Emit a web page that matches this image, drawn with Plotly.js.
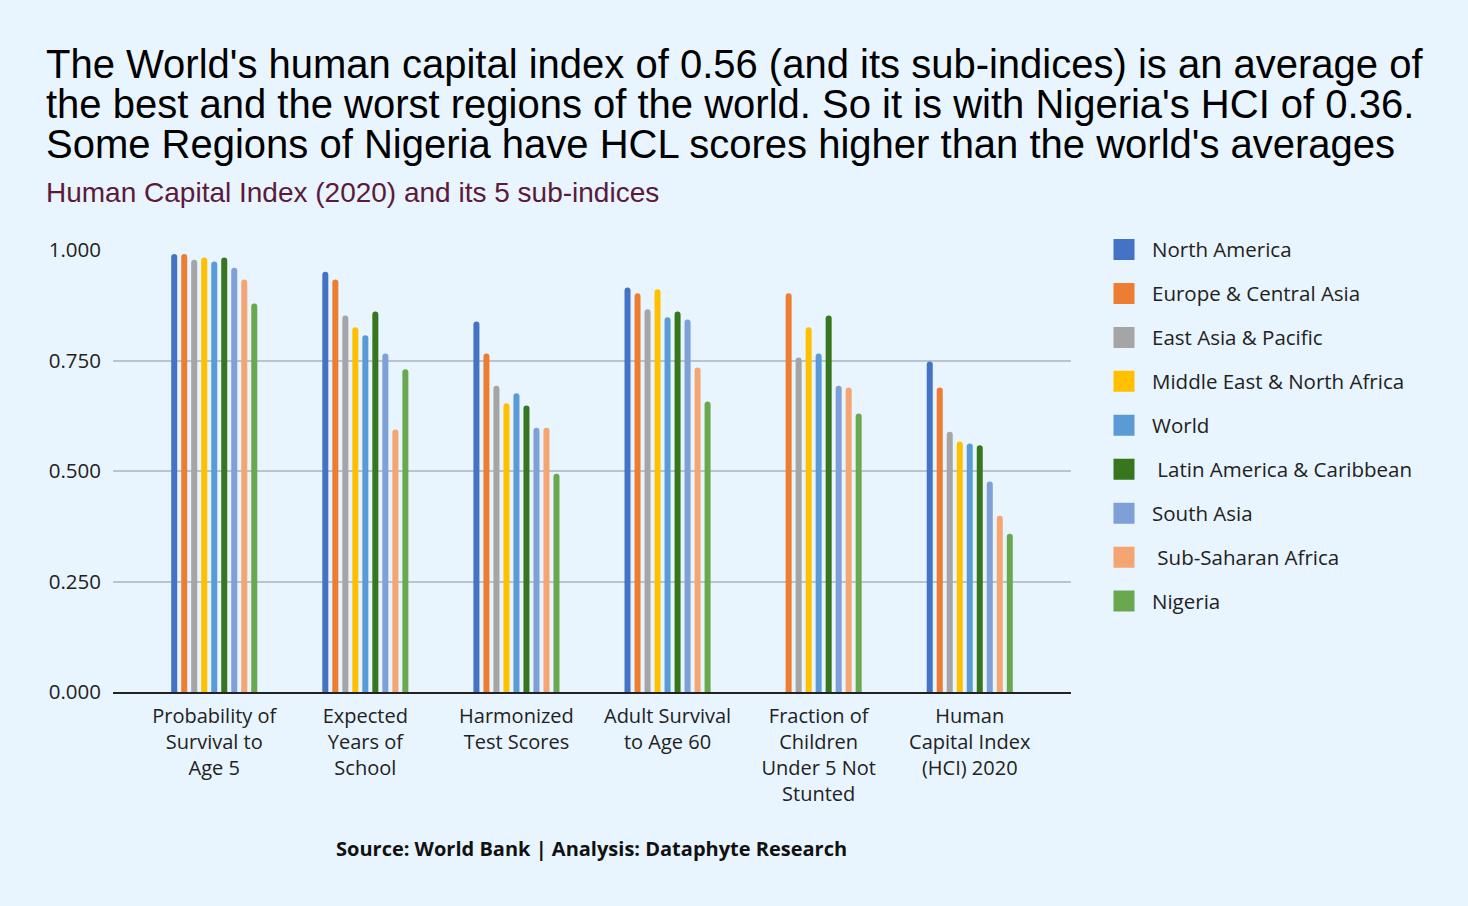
<!DOCTYPE html>
<html>
<head>
<meta charset="utf-8">
<script src="https://cdn.plot.ly/plotly-3.0.1.min.js"></script>
<style>
html,body{margin:0;padding:0;background:#E8F4FE;}
#chart{width:1468px;height:906px;}
</style>
</head>
<body>
<div id="chart"></div>
<script>
const categories = [
  "Probability of<br>Survival to<br>Age 5",
  "Expected<br>Years of<br>School",
  "Harmonized<br>Test Scores",
  "Adult Survival<br>to Age 60",
  "Fraction of<br>Children<br>Under 5 Not<br>Stunted",
  "Human<br>Capital Index<br>(HCI) 2020"
];

const seriesNames = [
  "North America",
  "Europe & Central Asia",
  "East Asia & Pacific",
  "Middle East & North Africa",
  "World",
  "\u00a0Latin America & Caribbean",
  "South Asia",
  "\u00a0Sub-Saharan Africa",
  "Nigeria"
];

const northAmerica   = [0.991, 0.951, 0.838, 0.915, null,  0.748];
const europeCentral  = [0.991, 0.933, 0.766, 0.902, 0.902, 0.689];
const eastAsiaPac    = [0.978, 0.852, 0.693, 0.866, 0.757, 0.589];
const middleEastNA   = [0.983, 0.825, 0.653, 0.911, 0.825, 0.567];
const world          = [0.974, 0.807, 0.676, 0.848, 0.766, 0.562];
const latinAmerica   = [0.983, 0.861, 0.648, 0.861, 0.852, 0.558];
const southAsia      = [0.960, 0.766, 0.598, 0.843, 0.693, 0.476];
const subSaharan     = [0.933, 0.594, 0.598, 0.734, 0.689, 0.399];
const nigeria        = [0.879, 0.730, 0.494, 0.657, 0.630, 0.358];

const seriesValues = [northAmerica, europeCentral, eastAsiaPac, middleEastNA, world,
                      latinAmerica, southAsia, subSaharan, nigeria];

const colors = ["#4472C4", "#ED7D31", "#A5A5A5", "#FFC000", "#5B9BD5",
                "#38761D", "#7F9FD7", "#F4A571", "#6AA84F"];

const yTickVals = [0, 0.25, 0.5, 0.75, 1.0];
const yTickText = ["0.000", "0.250", "0.500", "0.750", "1.000"];

const xIdx = categories.map((c, i) => i);

// bars (legend entries drawn by matching swatch traces below)
const barTraces = seriesNames.map((name, i) => ({
  type: "bar",
  name: name,
  x: xIdx,
  y: seriesValues[i],
  legendgroup: "g" + i,
  showlegend: false,
  marker: {color: colors[i], cornerradius: 3},
  hoverinfo: "y+name"
}));

// legend swatches: empty scatter traces with large square markers
const legendTraces = seriesNames.map((name, i) => ({
  type: "scatter",
  mode: "markers",
  name: name,
  x: [null],
  y: [null],
  legendgroup: "g" + i,
  showlegend: true,
  marker: {symbol: "square", size: 16, color: colors[i],
           line: {color: colors[i], width: 5}},
  hoverinfo: "skip"
}));

const FONT = "'Open Sans', 'Noto Sans', sans-serif";
const TFONT = "'Liberation Sans', Arial, sans-serif";

const layout = {
  width: 1468,
  height: 906,
  paper_bgcolor: "#E8F4FE",
  plot_bgcolor: "#E8F4FE",
  margin: {l: 113, r: 397, t: 250, b: 214},
  barmode: "group",
  bargap: 0.404,
  bargroupgap: 0.4,
  showlegend: true,
  legend: {
    x: 1.0261, xanchor: "left",
    y: 1.046, yanchor: "top",
    font: {family: FONT, size: 20.5, color: "#222222"},
    traceorder: "grouped",
    tracegroupgap: 14.3,
    bgcolor: "rgba(0,0,0,0)",
    itemwidth: 46,
    itemclick: false,
    itemdoubleclick: false
  },
  xaxis: {
    range: [-0.67, 5.67],
    tickmode: "array",
    tickvals: xIdx,
    ticktext: categories,
    tickfont: {family: FONT, size: 20, color: "#222222"},
    showgrid: false,
    zeroline: false,
    showline: true,
    linecolor: "#222222",
    linewidth: 2,
    ticks: "",
    ticklabelstandoff: 5,
    fixedrange: true
  },
  yaxis: {
    range: [0, 1.0],
    tickmode: "array",
    tickvals: yTickVals,
    ticktext: yTickText,
    tickfont: {family: FONT, size: 20.5, color: "#222222"},
    showgrid: true,
    gridcolor: "#BAC3CE",
    gridwidth: 2,
    zeroline: false,
    ticks: "",
    ticklabelstandoff: 11,
    fixedrange: true
  },
  annotations: [
    {text: "The World's human capital index of 0.56 (and its sub-indices) is an average of",
     xref: "paper", yref: "paper", x: -0.0720, y: 1.4208, xanchor: "left", yanchor: "middle",
     showarrow: false, font: {family: TFONT, size: 40, color: "#000000"}},
    {text: "the best and the worst regions of the world. So it is with Nigeria's HCI of 0.36.",
     xref: "paper", yref: "paper", x: -0.0720, y: 1.3303, xanchor: "left", yanchor: "middle",
     showarrow: false, font: {family: TFONT, size: 40, color: "#000000"}},
    {text: "Some Regions of Nigeria have HCL scores higher than the world's averages",
     xref: "paper", yref: "paper", x: -0.0720, y: 1.2398, xanchor: "left", yanchor: "middle",
     showarrow: false, font: {family: TFONT, size: 40, color: "#000000"}},
    {text: "Human Capital Index (2020) and its 5 sub-indices",
     xref: "paper", yref: "paper", x: -0.0720, y: 1.129, xanchor: "left", yanchor: "middle",
     showarrow: false, font: {family: TFONT, size: 28, color: "#5C1A3B"}},
    {text: "<b>Source: World Bank | Analysis: Dataphyte Research</b>",
     xref: "paper", yref: "paper", x: 0.499, y: -0.353, xanchor: "center", yanchor: "middle",
     showarrow: false, font: {family: FONT, size: 20, color: "#111111"}}
  ]
};

Plotly.newPlot("chart", barTraces.concat(legendTraces), layout, {displayModeBar: false, responsive: false});
</script>
</body>
</html>
